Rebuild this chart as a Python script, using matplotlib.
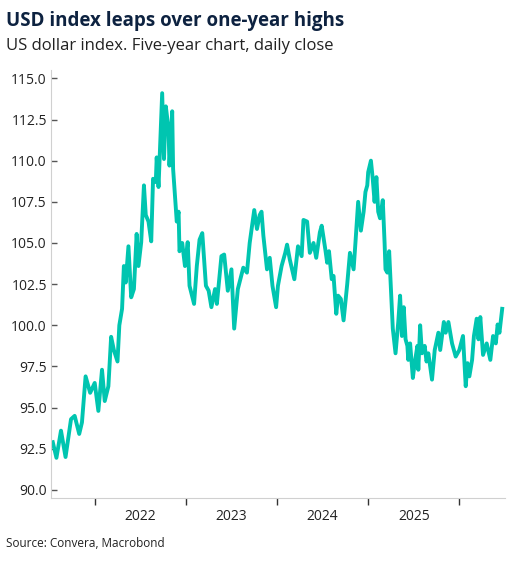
import matplotlib
matplotlib.use("Agg")
import matplotlib.pyplot as plt
from matplotlib.ticker import FixedLocator, NullFormatter, FixedFormatter

plt.rcParams['font.family'] = ['Open Sans', 'DejaVu Sans']

# time in decimal years, values = USD index
t = [2021.54,2021.58,2021.63,2021.68,2021.74,2021.78,2021.83,2021.86,2021.90,2021.95,
     2022.00,2022.04,2022.08,2022.11,2022.15,2022.18,2022.21,2022.25,2022.27,2022.30,
     2022.32,2022.34,2022.37,2022.40,2022.43,2022.46,2022.48,2022.51,2022.54,2022.56,
     2022.59,2022.62,2022.64,2022.67,2022.68,2022.70,2022.71,2022.74,2022.76,2022.78,
     2022.81,2022.82,2022.85,2022.86,2022.88,2022.90,2022.92,2022.93,2022.96,2022.99,
     2023.02,2023.04,2023.09,2023.12,2023.15,2023.18,2023.22,2023.25,2023.28,2023.32,
     2023.34,2023.39,2023.42,2023.46,2023.50,2023.53,2023.57,2023.63,2023.67,2023.70,
     2023.75,2023.78,2023.81,2023.83,2023.85,2023.89,2023.92,2023.95,2023.99,
     2024.01,2024.05,2024.09,2024.11,2024.14,2024.19,2024.23,2024.27,2024.29,2024.33,
     2024.36,2024.40,2024.43,2024.47,2024.49,2024.53,2024.55,2024.57,2024.60,2024.62,
     2024.65,2024.67,2024.70,2024.73,2024.77,2024.80,2024.84,2024.86,2024.88,2024.89,
     2024.92,2024.95,2024.97,2024.99,2025.00,2025.03,2025.05,2025.07,2025.09,2025.11,
     2025.13,2025.16,2025.18,2025.19,2025.21,2025.23,2025.25,2025.27,2025.30,2025.32,
     2025.33,2025.35,2025.37,2025.39,2025.41,2025.43,2025.44,2025.46,2025.49,2025.51,
     2025.54,2025.55,2025.57,2025.59,2025.62,2025.64,2025.66,2025.70,2025.73,2025.77,
     2025.79,2025.83,2025.85,2025.88,2025.92,2025.96,2026.00,2026.04,2026.07,2026.09,
     2026.11,2026.14,2026.16,2026.19,2026.21,2026.23,2026.26,2026.30,2026.34,2026.37,
     2026.40,2026.42,2026.44,2026.47]
usd = [92.9,91.95,93.6,92.0,94.3,94.5,93.4,94.1,96.9,95.9,
       96.5,94.8,97.3,95.4,96.3,99.3,98.5,97.8,100.0,101.0,
       103.6,102.6,104.8,101.7,102.2,105.55,103.6,105.05,108.5,106.7,
       106.3,105.1,108.9,108.7,110.2,108.4,109.8,114.1,110.1,113.3,
       111.9,109.7,113.0,109.5,107.9,106.3,106.9,104.5,105.0,103.6,
       105.05,102.4,101.3,103.6,105.2,105.6,102.4,102.1,101.1,102.2,
       101.3,104.2,104.3,102.1,103.4,99.8,102.2,103.5,103.2,105.0,
       107.0,105.85,106.7,106.9,105.45,103.4,104.1,102.4,101.1,
       102.4,103.6,104.4,104.9,104.0,102.8,104.8,104.2,106.4,106.3,
       104.4,105.0,104.1,105.65,106.05,104.6,103.8,104.5,102.8,103.0,
       100.7,101.8,101.6,100.3,102.5,104.4,103.4,105.0,106.7,107.5,
       105.75,106.9,108.1,108.5,109.3,110.0,108.9,107.5,109.0,106.9,
       106.5,107.6,105.0,103.4,103.2,104.5,102.2,99.8,98.3,99.55,
       100.2,101.8,99.35,101.1,99.15,98.75,97.9,98.9,96.8,97.7,
       98.75,97.3,100.0,98.3,98.75,97.8,98.3,96.7,98.5,99.55,
       98.5,100.2,99.55,100.2,98.9,98.1,98.5,99.35,96.3,97.7,
       96.9,97.9,99.35,100.4,99.15,100.5,98.2,98.9,97.9,99.35,
       98.9,100.05,99.55,101.0]

year_ticks = [2022, 2023, 2024, 2025, 2026]
year_labels = ["2022", "2023", "2024", "2025"]
label_pos = [2022.5, 2023.5, 2024.5, 2025.5]
y_ticks = [90.0, 92.5, 95.0, 97.5, 100.0, 102.5, 105.0, 107.5, 110.0, 112.5, 115.0]

fig = plt.figure(figsize=(5.2, 5.61), dpi=100)
ax = fig.add_axes([0.098, 0.112, 0.873, 0.763])
ax.plot(t, usd, color="#00C5B0", lw=2.8, solid_joinstyle="round")
ax.set_xlim(2021.52, 2026.5)
ax.set_ylim(89.5, 115.5)

ax.xaxis.set_major_locator(FixedLocator(year_ticks))
ax.xaxis.set_major_formatter(NullFormatter())
ax.xaxis.set_minor_locator(FixedLocator(label_pos))
ax.xaxis.set_minor_formatter(FixedFormatter(year_labels))
ax.tick_params(axis='x', which='major', length=5, width=1, color="#333333", direction='out')
ax.tick_params(axis='x', which='minor', length=0, pad=8, labelsize=10, labelcolor="#222222")
ax.set_yticks(y_ticks)
ax.set_yticklabels([f"{v:.1f}" for v in y_ticks])
ax.tick_params(axis='y', length=4, width=1, color="#555555", direction='in', labelsize=10,
               labelcolor="#222222", pad=3)
for s in ["top", "right"]:
    ax.spines[s].set_visible(False)
for s in ["left", "bottom"]:
    ax.spines[s].set_color("#d0d0d0")

fig.text(0.012, 0.962, "USD index leaps over one-year highs", fontsize=13.5, fontweight="bold",
         color="#0d2240", va="center")
fig.text(0.012, 0.918, "US dollar index. Five-year chart, daily close", fontsize=12,
         color="#222222", va="center")
fig.text(0.012, 0.032, "Source: Convera, Macrobond", fontsize=8.5, color="#222222", va="center")

fig.savefig("out.png", dpi=100)
